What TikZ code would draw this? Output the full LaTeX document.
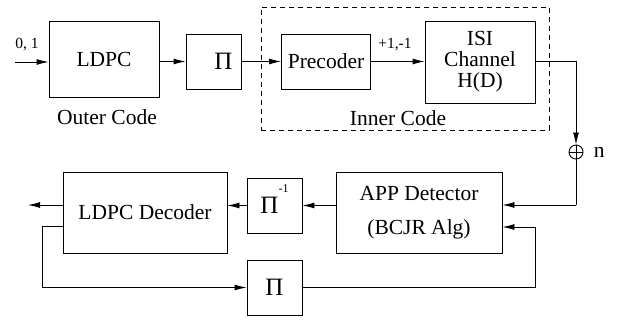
\documentclass[tikz,border=0pt]{standalone}
\usepackage{fontspec}
\setmainfont{Liberation Serif}
\usetikzlibrary{positioning}
\usetikzlibrary{arrows.meta,arrows}

\begin{document}
\begin{tikzpicture}[x=1pt,y=-1pt,line width=0.9pt,
	every node/.style={font=\fontsize{21.5}{21}\selectfont},
	blk/.style={draw,inner sep=0pt,align=center},
	pibox/.style={blk,minimum width=55pt,minimum height=55pt,font=\fontsize{25}{25}\selectfont},
	small/.style={inner sep=0pt,font=\fontsize{15.5}{16}\selectfont},
	arr/.style={-{Latex[length=12pt,width=6pt]}}]
				\useasboundingbox (0,0) rectangle (623,320);

				\node[blk,minimum width=110pt,minimum height=76pt](ldpc) at (104,59){LDPC};
				\node[pibox](pi1) at (213.5,61.5){\hspace*{20pt}Π};
				\node[blk,minimum width=89pt,minimum height=55pt](prec) at (326,61.5){Precoder};
				\node[blk,minimum width=110pt,minimum height=82pt](isi) at (480,62){ISI\\Channel\\H(D)};
				\node[draw,line width=0.7pt,dash pattern=on 5pt off 4pt,minimum width=288pt,minimum height=123pt,inner sep=0pt](inner) at (405,68.5){};
				\node[below=12pt of ldpc,xshift=3pt,inner sep=0pt](outer){Outer Code};
				\node[below=7pt of isi,xshift=-82pt,inner sep=0pt](innerlab){Inner Code};
				\node[small](bits) at (27,45){0, 1};
				\node[small](levels) at (395,45){+1,-1};
				\node[draw,circle,minimum size=14pt,inner sep=0pt](sum) at (576,152){};
				\node[right=10pt of sum,inner sep=0pt](noise){n};

				\node[blk,minimum width=166pt,minimum height=81pt](app) at (419,212.5){APP Detector\\[13pt](BCJR Alg)};
				\node[pibox](pi2) at (274.5,205.5){Π\raisebox{21pt}[0pt][0pt]{\fontsize{12}{12}\selectfont -1}};
				\node[blk,minimum width=164pt,minimum height=81pt](dec) at (145,212.5){LDPC Decoder};
				\node[pibox](pi3) at (274.5,287.5){Π};

				\coordinate (src) at (15,62);
				\coordinate (sink) at (28,205);
				\coordinate (fb1) at (42,226);
				\coordinate (fb2) at (535,227);
				\coordinate (rx) at (576,205);

				\draw (sum.north) -- (sum.south) (sum.west) -- (sum.east);
				\draw[arr] (src) -- (ldpc.west |- src);
				\draw[arr] (ldpc.east |- pi1) -- (pi1);
				\draw[arr] (pi1) -- (prec);
				\draw[arr] (prec) -- (isi.west |- prec);
				\draw[arr] (isi.east |- prec) -| (sum);
				\draw (sum) -- (rx);
				\draw[arr] (rx) -- (app.east |- rx);
				\draw[arr] (app.west |- pi2) -- (pi2);
				\draw[arr] (pi2) -- (dec.east |- pi2);
				\draw[arr] (dec.west |- sink) -- (sink);
				\draw[arr] (dec.west |- fb1) -- (fb1) |- (pi3);
				\draw[arr] (pi3) -| (fb2) -- (app.east |- fb2);
			\end{tikzpicture}
\end{document}
